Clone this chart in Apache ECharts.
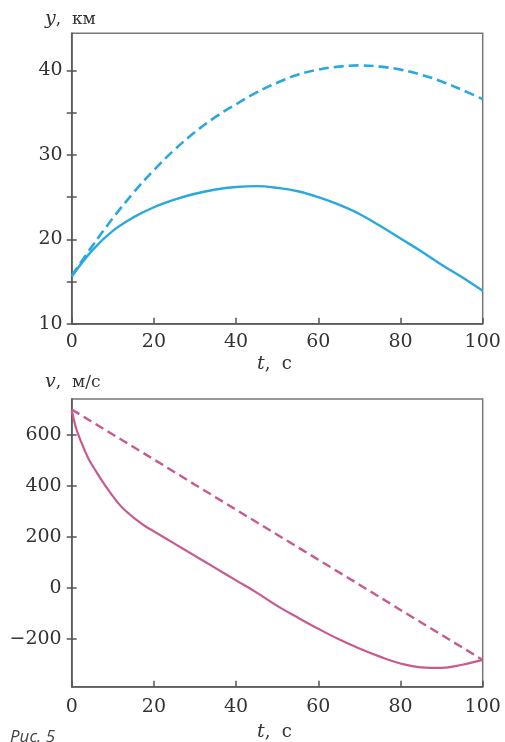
<!DOCTYPE html>
<html>
<head>
<meta charset="utf-8">
<script src="https://cdn.jsdelivr.net/npm/echarts@6/dist/echarts.min.js"></script>
<style>
html,body{margin:0;padding:0;background:#fff;}
#chart{width:505px;height:742px;}
</style>
</head>
<body>
<div id="chart"></div>
<script>
// ---- data ----
const tTop = [0,5,10,15,20,25,30,35,40,45,50,55,60,65,70,75,80,85,90,95,100];
const yDashed = [15.7,19.2,22.5,25.5,28.2,30.6,32.7,34.5,36.0,37.4,38.55,39.5,40.1,40.45,40.6,40.45,40.1,39.5,38.7,37.7,36.6];
const ySolid  = [15.6,18.7,21.0,22.6,23.8,24.7,25.4,25.9,26.2,26.3,26.1,25.7,25.0,24.1,23.0,21.6,20.1,18.6,17.0,15.5,13.9];

const tVDashed = [0,10,20,30,40,50,60,70,80,90,100];
const vDashed  = [700,602,504,405,307,209,111,13,-86,-184,-282];
const tVSolid  = [0,1,2,4,6,8,10,12,14,16,18,20,25,30,35,40,45,50,55,60,65,70,75,80,85,90,95,100];
const vSolid   = [698,630,585,510,455,405,360,320,290,264,241,222,174,126,78,30,-18,-70,-116,-160,-201,-237,-269,-296,-311,-313,-301,-282];

const xTicks = [0,20,40,60,80,100];
const yTopTicks = [10,15,20,25,30,35,40];
const yTopLabels = [10,20,30,40];
const yBotTicks = [-200,0,200,400,600];

const pairs = (xs, ys) => xs.map((x,i)=>[x, ys[i]]);

const chart = echarts.init(document.getElementById('chart'), null, {renderer:'canvas'});
const AX = '#555';
const FONT = 'DejaVu Serif';
const cyan = '#29a8df';
const pink = '#c85a8f';

function xAxisDef(gi, margin){
  return {
    type:'value', gridIndex:gi, min:0, max:100, interval:20,
    axisLine:{show:true, onZero:false, lineStyle:{color:AX, width:1.5}},
    axisTick:{show:true, inside:true, length:6, lineStyle:{color:AX, width:1.5}},
    axisLabel:{show:true, margin:margin, color:'#333', fontFamily:FONT, fontSize:19,
      customValues:xTicks, showMinLabel:true, showMaxLabel:true},
    splitLine:{show:false}
  };
}
function yAxisDefs(gi, min, max, ticks, labels, margin){
  return [{
    type:'value', gridIndex:gi, min:min, max:max, position:'left',
    axisLine:{show:true, onZero:false, lineStyle:{color:AX, width:1.5}},
    axisTick:{show:false},
    axisLabel:{show:true, margin:margin, color:'#333', fontFamily:FONT, fontSize:19,
      customValues:labels, formatter:v=> v<0 ? '\u2212'+Math.abs(v) : String(v)},
    splitLine:{show:false}
  },{
    type:'value', gridIndex:gi, min:min, max:max, position:'left', offset:-5,
    axisLine:{show:false, onZero:false},
    axisTick:{show:true, inside:false, length:10, customValues:ticks, lineStyle:{color:AX, width:1.5}},
    axisLabel:{show:false},
    splitLine:{show:false}
  }];
}

const yTop = yAxisDefs(0, 10, 44.4, yTopTicks, yTopLabels, 9);
const yBot = yAxisDefs(1, -387, 741, yBotTicks, yBotTicks, 10);

const option = {
  backgroundColor:'#fff',
  animation:false,
  grid:[
    {left:71.7, top:33.3, width:411, height:290.5, show:true, borderColor:'#777', borderWidth:1.5, backgroundColor:'transparent'},
    {left:71.7, top:399, width:411, height:287.7, show:true, borderColor:'#777', borderWidth:1.5, backgroundColor:'transparent'}
  ],
  xAxis:[xAxisDef(0, 9), xAxisDef(1, 11)],
  yAxis:[yTop[0], yTop[1], yBot[0], yBot[1]],
  series:[
    {type:'line', xAxisIndex:0, yAxisIndex:0, data:pairs(tTop, yDashed), smooth:0.4, showSymbol:false,
      lineStyle:{color:cyan, width:2.6, type:[10,5]}},
    {type:'line', xAxisIndex:0, yAxisIndex:0, data:pairs(tTop, ySolid), smooth:0.4, showSymbol:false,
      lineStyle:{color:cyan, width:2.4}},
    {type:'line', xAxisIndex:1, yAxisIndex:2, data:pairs(tVDashed, vDashed), smooth:false, showSymbol:false,
      lineStyle:{color:pink, width:2.4, type:[9,5]}},
    {type:'line', xAxisIndex:1, yAxisIndex:2, data:pairs(tVSolid, vSolid), smooth:0.4, showSymbol:false,
      lineStyle:{color:pink, width:2.2}}
  ],
  graphic:[
    {type:'text', left:45, top:10, style:{rich:{i:{fontFamily:FONT, fontStyle:'italic', fontSize:19, fill:'#333'}, n:{fontFamily:FONT, fontSize:17, fill:'#333'}}, text:'{i|y}{n|,  км}'}},
    {type:'text', left:257, top:355, style:{rich:{i:{fontFamily:FONT, fontStyle:'italic', fontSize:19, fill:'#333'}, n:{fontFamily:FONT, fontSize:18, fill:'#333'}}, text:'{i|t}{n|,  с}'}},
    {type:'text', left:45, top:373, style:{rich:{i:{fontFamily:FONT, fontStyle:'italic', fontSize:19, fill:'#333'}, n:{fontFamily:FONT, fontSize:17, fill:'#333'}}, text:'{i|v}{n|,  м/с}'}},
    {type:'text', left:257, top:723, style:{rich:{i:{fontFamily:FONT, fontStyle:'italic', fontSize:19, fill:'#333'}, n:{fontFamily:FONT, fontSize:18, fill:'#333'}}, text:'{i|t}{n|,  с}'}},
    {type:'text', left:10, top:729, style:{text:'Рис. 5', fontFamily:'Open Sans', fontStyle:'italic', fontSize:17, fill:'#444'}}
  ]
};
chart.setOption(option);
</script>
</body>
</html>
